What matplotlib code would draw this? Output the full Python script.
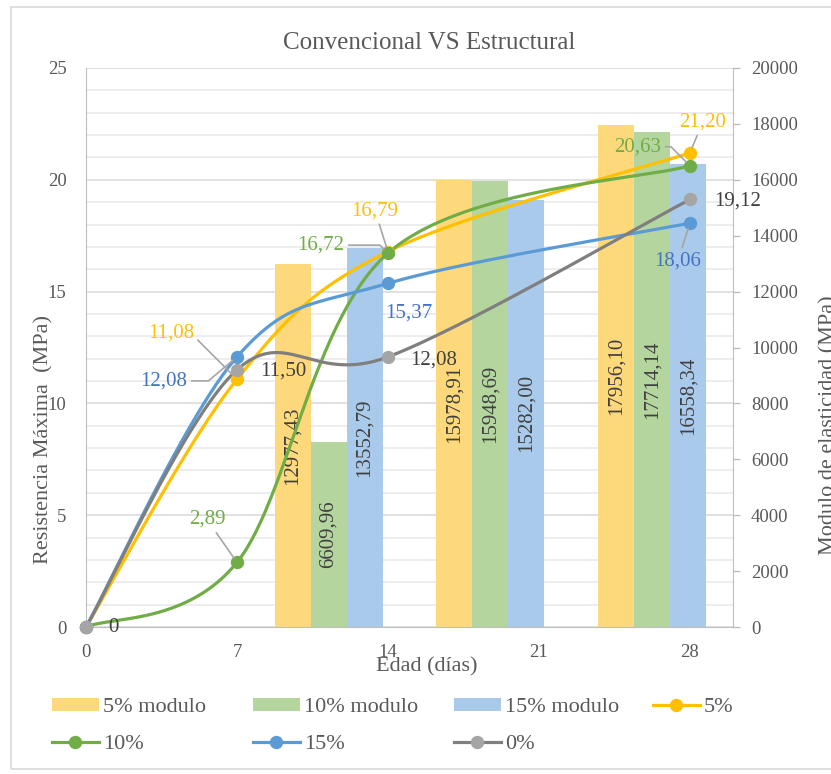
import matplotlib
matplotlib.use('Agg')
import matplotlib.pyplot as plt
import numpy as np
from matplotlib.lines import Line2D
from matplotlib.patches import Patch, Rectangle

plt.rcParams['font.family'] = ['Liberation Serif', 'DejaVu Serif']

# ---------------- data ----------------
days = [0, 7, 14, 28]
s5 = [0, 11.08, 16.79, 21.20]
s10 = [0, 2.89, 16.72, 20.63]
s15 = [0, 12.08, 15.37, 18.06]
s0 = [0, 11.50, 12.08, 19.12]

bar_cats = [1, 2, 3]          # category slots (of 4) holding the modulus bars
mod5 = [12977.43, 15978.91, 17956.10]
mod10 = [6609.96, 15948.69, 17714.14]
mod15 = [13552.79, 15282.00, 16558.34]

x_ticks = [0, 7, 14, 21, 28]
left_ticks = [0, 5, 10, 15, 20, 25]
right_ticks = list(range(0, 20001, 2000))

title = "Convencional VS Estructural"
xlabel = "Edad (días)"
ylabel_left = "Resistencia Máxima  (MPa)"
ylabel_right = "Modulo de elasticidad (MPa)"

# ---------------- styles ----------------
C_Y, C_G, C_B, C_K = '#FFC000', '#70AD47', '#5B9BD5', '#7F7F7F'
C_KM = '#A5A5A5'
BAR_Y, BAR_G, BAR_B = '#FED97C', '#B5D59F', '#A9CAEA'
LBL_Y, LBL_G, LBL_B, LBL_K = '#FFC000', '#70AD47', '#4472C4', '#404040'
TXT = '#595959'
AXC = '#BFBFBF'
LEAD = '#A6A6A6'


def smooth(xs, ys, n=80):
    pts = np.column_stack([xs, ys]).astype(float)
    out = []
    for i in range(len(pts) - 1):
        p0 = pts[i - 1] if i > 0 else pts[i]
        p1, p2 = pts[i], pts[i + 1]
        p3 = pts[i + 2] if i + 2 < len(pts) else pts[i + 1]
        c1 = p1 + (p2 - p0) / 6.0
        c2 = p2 - (p3 - p1) / 6.0
        t = np.linspace(0, 1, n)[:, None]
        seg = (1 - t) ** 3 * p1 + 3 * (1 - t) ** 2 * t * c1 + 3 * (1 - t) * t ** 2 * c2 + t ** 3 * p2
        out.append(seg if i == 0 else seg[1:])
    s = np.vstack(out)
    return s[:, 0], s[:, 1]


def fmt(v):
    return f"{v:.2f}".replace('.', ',')


W, H = 831, 774
fig = plt.figure(figsize=(W / 100, H / 100), dpi=100)

# outer chart border
fig.patches.append(Rectangle((11 / W, 5 / H), 1.2, 1 - 12 / H, transform=fig.transFigure,
                             fill=False, edgecolor='#D9D9D9', lw=1.2))

ax = fig.add_axes([86 / W, 1 - 627 / H, (733 - 86) / W, (627 - 68) / H])
axb = ax.twinx()
ax.set_zorder(axb.get_zorder() + 1)
ax.patch.set_visible(False)

ax.set_xlim(0, 30)
ax.set_ylim(0, 25)
axb.set_ylim(0, 20000)

# gridlines (every 1 MPa on the left scale)
ratio = 20000 / 25
for k in range(0, 26):
    col = '#D9D9D9' if k % 5 == 0 else '#E8E8E8'
    axb.axhline(k * ratio, color=col, lw=1.1, zorder=0.5)

# bars
ncat = 4
cat_w = 30 / ncat
bw = cat_w / 4.5
centers = (np.array(bar_cats) + 0.5) * cat_w
for j, (vals, col) in enumerate([(mod5, BAR_Y), (mod10, BAR_G), (mod15, BAR_B)]):
    xs = centers + (j - 1) * bw
    axb.bar(xs, vals, bw, color=col, zorder=2, linewidth=0)
    for x, v in zip(xs, vals):
        axb.text(x, v / 2, fmt(v), rotation=90, ha='center', va='center',
                 fontsize=15, color=LBL_K, zorder=3)

# lines
series = [(s5, C_Y, C_Y), (s10, C_G, C_G), (s15, C_B, C_B), (s0, C_K, C_KM)]
for vals, lc, mc in series:
    xs, ys = smooth(days, vals)
    ax.plot(xs, ys, color=lc, lw=2.3, solid_capstyle='round', clip_on=False, zorder=3)
    ax.plot(days, vals, 'o', ms=8.6, color=mc, mec=mc, clip_on=False, zorder=4)

# data labels: (series, index, dx, dy, color, leader)
labels = [
    (s5, 1, -66, 46, LBL_Y, 'angle'), (s5, 2, -13, 41, LBL_Y, 'line'), (s5, 3, 13, 31, LBL_Y, 'line'),
    (s10, 1, -30, 43, LBL_G, 'line'), (s10, 2, -67, 8, LBL_G, 'angle'), (s10, 3, -52, 19, LBL_G, 'angle'),
    (s15, 1, -73, -24, LBL_B, 'angle'), (s15, 2, 21, -30, LBL_B, None), (s15, 3, -12, -38, LBL_B, 'line'),
    (s0, 1, 46, -1, LBL_K, None), (s0, 2, 46, -3, LBL_K, None), (s0, 3, 48, -2, LBL_K, None),
    (s0, 0, 27, -1, LBL_K, None),
]
for vals, i, dx, dy, col, lead in labels:
    v = vals[i]
    txt = fmt(v) if v != 0 else "0"
    kw = {}
    if lead == 'line':
        kw['arrowprops'] = dict(arrowstyle='-', color=LEAD, lw=1.2, shrinkA=1, shrinkB=4)
    elif lead == 'angle':
        angB = 135 if dx < 0 and dy > 0 else (-135 if dx < 0 else 45)
        if dy < 0 and dx < 0:
            angB = 220
        kw['arrowprops'] = dict(arrowstyle='-', color=LEAD, lw=1.2, shrinkA=1, shrinkB=4,
                                connectionstyle=f"angle,angleA=0,angleB={angB},rad=0")
    ax.annotate(txt, (days[i], v), xytext=(dx, dy), textcoords='offset pixels',
                ha='center', va='center', fontsize=15, color=col, zorder=5,
                annotation_clip=False, **kw)

# axes styling
ax.set_xticks(x_ticks)
ax.set_yticks(left_ticks)
axb.set_yticks(right_ticks)
ax.tick_params(axis='x', length=0, pad=12, labelsize=13.5, labelcolor=TXT)
ax.tick_params(axis='y', length=0, pad=14, labelsize=13.5, labelcolor=TXT)
axb.tick_params(axis='y', length=5, width=1, color=AXC, pad=8, labelsize=13.5, labelcolor=TXT)
for s in ['top', 'right']:
    ax.spines[s].set_visible(False)
for s in ['left', 'bottom']:
    ax.spines[s].set_color(AXC)
for s in ['top', 'left', 'bottom']:
    axb.spines[s].set_visible(False)
axb.spines['right'].set_color(AXC)

# titles
fig.text(429 / W, 1 - 43 / H, title, ha='center', va='center', fontsize=18, color=TXT)
fig.text(427 / W, 1 - 667 / H, xlabel, ha='center', va='center', fontsize=16, color=TXT)
fig.text(44 / W, 1 - 440 / H, ylabel_left, ha='center', va='center', rotation=90, fontsize=16, color=TXT)
fig.text(829 / W, 1 - 425 / H, ylabel_right, ha='center', va='center', rotation=90, fontsize=16, color=TXT)

# legend (4 columns placed individually)
def lh(c, mc):
    return Line2D([], [], color=c, lw=2.3, marker='o', ms=8.6, mfc=mc, mec=mc)

cols = [
    (52, [(Patch(facecolor=BAR_Y), '5% modulo'), (lh(C_G, C_G), '10%')]),
    (253, [(Patch(facecolor=BAR_G), '10% modulo'), (lh(C_B, C_B), '15%')]),
    (454, [(Patch(facecolor=BAR_B), '15% modulo'), (lh(C_K, C_KM), '0%')]),
    (653, [(lh(C_Y, C_Y), '5%')]),
]
for x, items in cols:
    handles = [h for h, _ in items]
    labs = [l for _, l in items]
    yc = 726 if len(items) == 2 else 707
    leg = fig.legend(handles, labs, loc='center left', bbox_to_anchor=(x / W, 1 - yc / H),
                     frameon=False, fontsize=16, handlelength=2.1, handleheight=0.5,
                     handletextpad=0.2, labelspacing=0.8, borderpad=0, borderaxespad=0)
    for t in leg.get_texts():
        t.set_color(TXT)

fig.savefig('out.png', dpi=100)
